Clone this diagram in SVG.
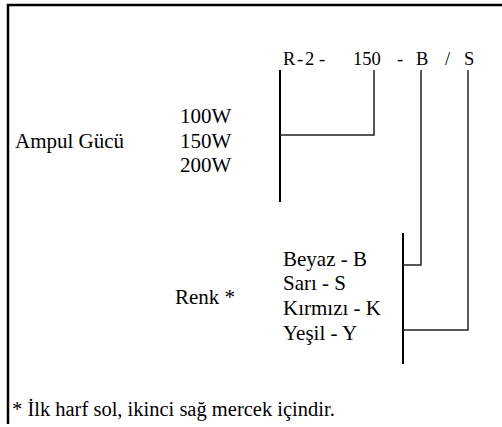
<svg xmlns="http://www.w3.org/2000/svg" width="502" height="427" viewBox="0 0 502 427">
<style>
text{font-family:"Liberation Serif","Times New Roman",serif;font-size:21px;fill:#000}
.code{font-size:18.5px}
.frame{stroke:#000;stroke-width:2.5;fill:none}
.bar{stroke:#000;stroke-width:2;fill:none}
.link{stroke:#222;stroke-width:1.5;fill:none}
</style>
<rect width="502" height="427" fill="#fff"/>
<path class="frame" d="M8,424 V5 H502"/>
<g id="code"><text class="code" y="65"><tspan x="283">R</tspan><tspan x="297">-</tspan><tspan x="305">2</tspan><tspan x="319">-</tspan><tspan x="353">150</tspan><tspan x="397">-</tspan><tspan x="416">B</tspan><tspan x="445">/</tspan><tspan x="464">S</tspan></text></g>
<g id="power-label"><text x="15" y="148">Ampul Gücü</text></g>
<g id="power-options"><text x="180" y="123">100W</text><text x="180" y="148">150W</text><text x="180" y="172">200W</text><path class="bar" d="M280,70 V202"/></g>
<g id="color-label"><text x="175" y="304">Renk *</text></g>
<g id="color-options"><text x="283" y="266">Beyaz - B</text><text x="283" y="290">Sarı - S</text><text x="283" y="315">Kırmızı - K</text><text x="283" y="340">Yeşil - Y</text><path class="bar" d="M403,233 V364"/></g>
<g id="connectors">
<path class="link" d="M374,70 V135 H280"/>
<path class="link" d="M421,70 V265 H403"/>
<path class="link" d="M468,70 V330 H403"/>
</g>
<g id="footnote"><text x="12" y="416" style="font-size:20.5px">* İlk harf sol, ikinci sağ mercek içindir.</text></g>
</svg>
